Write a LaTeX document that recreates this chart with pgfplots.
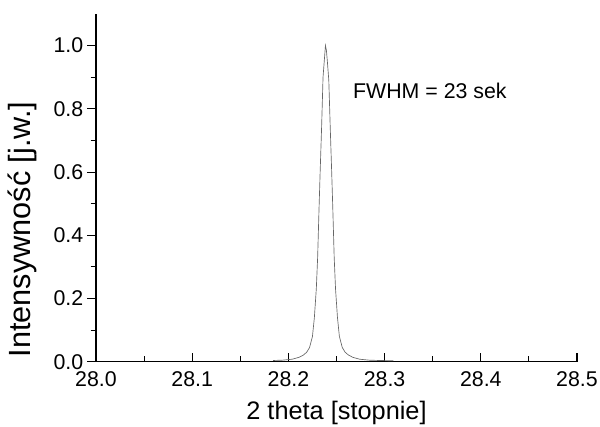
\documentclass[border=0pt]{standalone}
\usepackage{fontspec}
\setmainfont{Liberation Sans}
\usepackage{pgfplots}
\pgfplotsset{compat=1.18}

\begin{document}
\begin{tikzpicture}
  \useasboundingbox (-72pt,-48.2pt) rectangle (378pt,271.3pt);
  \begin{axis}[
      at={(0,0)},anchor=south west,
      scale only axis,
      width=360.75pt,height=260.8pt,
      xmin=28.0,xmax=28.5,
      ymin=0,ymax=1.1,
      axis x line=bottom,axis y line=left,
      axis line style={-,line width=0.8pt},
      xtick={28.0,28.1,28.2,28.3,28.4,28.5},
      ytick={0,0.2,0.4,0.6,0.8,1.0},
      minor x tick num=1,minor y tick num=1,
      xtick align=inside,ytick align=outside,
      major tick length=6.5pt,minor tick length=4pt,
      tick style={line width=0.8pt,black},
      /pgf/number format/assume math mode=true,
      xticklabel style={/pgf/number format/.cd,fixed,fixed zerofill,precision=1,/tikz/.cd,yshift=-4pt},
      yticklabel style={/pgf/number format/.cd,fixed,fixed zerofill,precision=1,/tikz/.cd,xshift=0.5pt},
      tick label style={font=\fontsize{16}{18}\selectfont},
      xlabel={2 theta [stopnie]},
      ylabel={Intensywność [j.w.]},
      xlabel style={font=\fontsize{19}{21}\selectfont,at={(axis description cs:0.5,-0.147)},anchor=center},
      ylabel style={font=\fontsize{23}{25}\selectfont,at={(axis description cs:-0.152,0.38)},anchor=center},
      clip=false]
    \addplot[color=black!60,line width=0.5pt,mark=none] coordinates {
      (28.184,0.004)(28.194,0.005)(28.204,0.008)(28.211,0.014)(28.2155,0.021)
      (28.219,0.030)(28.222,0.045)(28.225,0.080)(28.227,0.140)(28.229,0.230)
      (28.2304,0.330)(28.2318,0.480)(28.233,0.600)(28.2345,0.740)(28.236,0.900)
      (28.2375,0.960)(28.2385,1.000)
      (28.2395,0.985)(28.2405,0.950)(28.242,0.890)(28.2435,0.740)(28.245,0.600)
      (28.2462,0.480)(28.2476,0.330)(28.249,0.230)(28.251,0.140)(28.253,0.080)
      (28.256,0.045)(28.259,0.030)(28.2625,0.021)(28.267,0.014)(28.274,0.008)
      (28.284,0.005)(28.294,0.004)(28.309,0.003)};
    \node[anchor=west,font=\fontsize{16}{18}\selectfont,inner sep=0pt] at (axis cs:28.267,0.857) {FWHM = 23 sek};
  \end{axis}
\end{tikzpicture}
\end{document}
